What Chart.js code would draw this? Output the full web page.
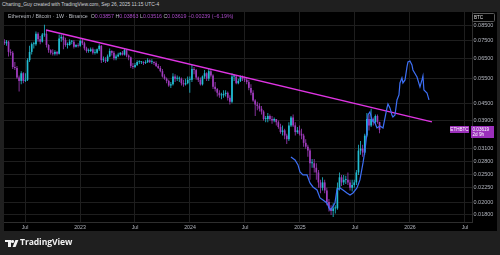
<!DOCTYPE html>
<html><head><meta charset="utf-8">
<script src="https://cdn.jsdelivr.net/npm/chart.js@4.4.1/dist/chart.umd.min.js"></script>
<style>
html,body{margin:0;padding:0;background:#1f1f1f;width:500px;height:255px;overflow:hidden;font-family:"Liberation Sans",Arial,sans-serif;}
#hdr{position:absolute;left:2px;top:1.5px;font-size:4.9px;color:#cfd2d8;white-space:nowrap;}
#panel{position:absolute;left:4px;top:12px;width:493px;height:219px;background:#000;}
#c{position:absolute;left:0;top:0;}
#legend{position:absolute;left:8px;top:13px;font-size:5.3px;color:#b8bbc2;white-space:nowrap;}
#legend .v{color:#a94ac8;}
#btc{position:absolute;left:472px;top:13px;width:20px;height:7px;border:0.6px solid #5a5a5a;border-radius:1.5px;font-size:4.6px;color:#e0e0e0;line-height:7px;padding-left:1px;box-sizing:content-box;}
.plab{position:absolute;background:#9b2fbb;color:#fff;font-size:4.6px;white-space:nowrap;}
#foot{position:absolute;left:20px;top:236px;font-size:8.6px;font-weight:700;color:#f2f2f2;font-family:"Open Sans","Liberation Sans",sans-serif;letter-spacing:-0.1px;}
.lg{position:absolute;background:#f2f2f2;}
</style></head>
<body>
<div id="hdr">Charting_Guy created with TradingView.com, Sep 26, 2025 11:15 UTC-4</div>
<div id="panel"></div>
<canvas id="c" width="500" height="255"></canvas>
<div id="legend">Ethereum / Bitcoin · 1W · Binance &nbsp;O<span class="v">0.03857</span> H<span class="v">0.03863</span> L<span class="v">0.03516</span> C<span class="v">0.03619</span> <span class="v">−0.00239 (−6.19%)</span></div>
<div id="btc">BTC</div>
<div id="lab1" class="plab" style="left:450px;width:19px;height:7px;line-height:7px;text-align:center;">ETHBTC</div>
<div id="lab2" class="plab" style="left:471px;width:23px;height:12px;line-height:5.6px;padding-left:1.5px;box-sizing:border-box;padding-top:0.6px;">0.03619<br>2d 9h</div>
<div class="lg" style="left:5px;top:240px;width:6px;height:2.4px;"></div>
<div class="lg" style="left:8px;top:240px;width:2.6px;height:7px;"></div>
<div class="lg" style="left:11.4px;top:240px;width:2.6px;height:2.6px;border-radius:50%;"></div>
<div class="lg" style="left:13.6px;top:240px;width:2.8px;height:7px;transform:skewX(-22deg);"></div>
<div id="foot">TradingView</div>
<script>
// Weekly candles ETH/BTC, first week starts 2022-04-25
const firstWeek = 2022.312;
const opens = [
.0745,.0735,.0745,.0685,.0680,.0605,.0600,.0555,.0540,.0575,.0540,.0545,.0640,.0685,.0730,.0730,.0795,.0760,.0745,.0790,.0795,.0725,.0695,.0680,.0675,.0685,.0675,.0765,.0775,.0755,.0725,.0725,.0745,.0745,.0715,.0725,
.0720,.0750,.0735,.0705,.0690,.0690,.0700,.0680,.0680,.0700,.0720,.0640,.0640,.0635,.0660,.0690,.0680,.0650,.0660,.0670,.0680,.0670,.0695,.0665,.0655,.0610,.0605,.0615,.0630,.0630,.0630,.0625,.0630,.0640,.0630,.0630,.0625,.0610,.0600,.0585,.0560,.0550,.0540,.0520,.0525,.0560,.0550,.0550,.0550,.0530,.0525,.0530,
.0545,.0545,.0595,.0590,.0555,.0545,.0525,.0560,.0575,.0550,.0585,.0565,.0515,.0505,.0490,.0480,.0480,.0485,.0490,.0470,.0455,.0560,.0560,.0530,.0540,.0560,.0550,.0545,.0535,.0510,.0490,.0460,.0445,.0440,.0430,.0420,.0395,.0395,.0405,.0395,.0390,.0395,.0385,.0370,.0355,.0360,.0345,.0335,.0375,.0400,.0375,.0355,.0360,
.0350,.0345,.0325,.0315,.0305,.0275,.0275,.0265,.0255,.0235,.0225,.0235,.0220,.0200,.0190,.0186,.0190,.0190,.0225,.0245,.0235,.0240,.0240,.0235,.0225,.0230,.0235,.0255,.0305,.0310,.0300,.0345,.0395,.0375,.0395,.0385,.0405,.03857];
const closes = [
.0735,.0745,.0685,.0680,.0605,.0600,.0555,.0540,.0575,.0540,.0545,.0640,.0685,.0730,.0730,.0795,.0760,.0745,.0790,.0795,.0725,.0695,.0680,.0675,.0685,.0675,.0765,.0775,.0755,.0725,.0725,.0745,.0745,.0715,.0725,.0720,
.0750,.0735,.0705,.0690,.0690,.0700,.0680,.0680,.0700,.0720,.0640,.0640,.0635,.0660,.0690,.0680,.0650,.0660,.0670,.0680,.0670,.0695,.0665,.0655,.0610,.0605,.0615,.0630,.0630,.0630,.0625,.0630,.0640,.0630,.0630,.0625,.0610,.0600,.0585,.0560,.0550,.0540,.0520,.0525,.0560,.0550,.0550,.0550,.0530,.0525,.0530,.0545,
.0545,.0595,.0590,.0555,.0545,.0525,.0560,.0575,.0550,.0585,.0565,.0515,.0505,.0490,.0480,.0480,.0485,.0490,.0470,.0455,.0560,.0560,.0530,.0540,.0560,.0550,.0545,.0535,.0510,.0490,.0460,.0445,.0440,.0430,.0420,.0395,.0395,.0405,.0395,.0390,.0395,.0385,.0370,.0355,.0360,.0345,.0335,.0375,.0400,.0375,.0355,.0360,.0350,
.0345,.0325,.0315,.0305,.0275,.0275,.0265,.0255,.0235,.0225,.0235,.0220,.0200,.0190,.0186,.0190,.0190,.0225,.0245,.0235,.0240,.0240,.0235,.0225,.0230,.0235,.0255,.0305,.0310,.0300,.0345,.0395,.0375,.0395,.0385,.0405,.03857,.03619];
const highs = [
.0760,.0755,.0750,.0700,.0690,.0630,.0610,.0565,.0585,.0580,.0575,.0650,.0720,.0740,.0745,.0810,.0805,.0780,.0800,.0855,.0820,.0730,.0700,.0700,.0695,.0690,.0790,.0790,.0785,.0770,.0740,.0760,.0755,.0755,.0730,.0735,
.0760,.0765,.0745,.0715,.0705,.0710,.0710,.0700,.0705,.0730,.0725,.0660,.0655,.0670,.0705,.0695,.0690,.0670,.0680,.0685,.0690,.0705,.0700,.0670,.0660,.0625,.0625,.0640,.0640,.0635,.0635,.0640,.0650,.0645,.0645,.0635,.0635,.0620,.0610,.0595,.0570,.0555,.0545,.0535,.0575,.0570,.0565,.0560,.0555,.0545,.0550,.0560,
.0560,.0615,.0605,.0595,.0560,.0555,.0565,.0590,.0580,.0600,.0595,.0570,.0535,.0510,.0500,.0490,.0500,.0500,.0495,.0480,.0575,.0570,.0565,.0550,.0565,.0565,.0560,.0555,.0545,.0525,.0500,.0465,.0455,.0450,.0440,.0425,.0405,.0415,.0410,.0405,.0400,.0395,.0390,.0380,.0375,.0365,.0350,.0385,.0405,.0410,.0385,.0370,.0375,
.0365,.0350,.0335,.0320,.0310,.0285,.0285,.0275,.0260,.0240,.0245,.0240,.0225,.0205,.0195,.0198,.0195,.0235,.0255,.0250,.0250,.0248,.0255,.0240,.0240,.0240,.0260,.0320,.0330,.0320,.0350,.0415,.0410,.0430,.0400,.0410,.0410,.03863];
const lows = [
.0725,.0720,.0660,.0665,.0595,.0590,.0550,.0495,.0525,.0530,.0535,.0540,.0630,.0670,.0705,.0720,.0745,.0730,.0740,.0775,.0710,.0680,.0670,.0665,.0665,.0665,.0670,.0745,.0700,.0715,.0705,.0720,.0730,.0705,.0710,.0710,
.0715,.0725,.0695,.0680,.0680,.0685,.0670,.0670,.0675,.0690,.0625,.0630,.0625,.0630,.0655,.0665,.0640,.0640,.0655,.0665,.0665,.0665,.0655,.0640,.0600,.0595,.0600,.0610,.0620,.0620,.0615,.0620,.0625,.0625,.0620,.0615,.0605,.0595,.0580,.0555,.0545,.0530,.0515,.0510,.0520,.0535,.0540,.0535,.0520,.0515,.0520,.0525,
.0490,.0535,.0570,.0545,.0535,.0520,.0520,.0550,.0540,.0540,.0555,.0505,.0495,.0475,.0470,.0465,.0470,.0475,.0460,.0445,.0450,.0540,.0525,.0525,.0535,.0540,.0535,.0525,.0500,.0480,.0455,.0405,.0425,.0420,.0410,.0390,.0385,.0385,.0390,.0380,.0385,.0375,.0365,.0350,.0345,.0335,.0322,.0330,.0370,.0370,.0345,.0350,.0345,
.0335,.0315,.0310,.0290,.0240,.0265,.0255,.0240,.0225,.0215,.0220,.0215,.0195,.0185,.0180,.0177,.0182,.0188,.0220,.0228,.0230,.0232,.0230,.0220,.0218,.0225,.0230,.0250,.0295,.0290,.0295,.0340,.0360,.0370,.0375,.0380,.0380,.03516];

// Blue projected path (decimal year, price)
const blueX = [2024.918,2024.955,2024.982,2025.000,2025.027,2025.064,2025.091,2025.118,2025.155,2025.182,2025.209,2025.245,2025.273,2025.291,2025.318,2025.336,2025.364,2025.391,2025.427,2025.455,2025.482,2025.518,2025.545,2025.573,2025.591,2025.609,2025.618,2025.636,2025.655,2025.682,2025.700,2025.727,2025.755,2025.773,2025.791,2025.800,2025.818,2025.836,2025.845,2025.864,2025.882,2025.900,2025.909,2025.927,2025.936,2025.955,2025.973,2025.982,2026.000,2026.018,2026.027,2026.064,2026.091,2026.109,2026.118,2026.127,2026.155,2026.173];
const blueY = [0.02896,0.02825,0.02712,0.02561,0.02498,0.02498,0.02340,0.02264,0.02209,0.02069,0.02036,0.01986,0.01875,0.01906,0.01986,0.02209,0.02246,0.02209,0.02156,0.02121,0.02156,0.02246,0.02398,0.02757,0.03066,0.03525,0.04086,0.04187,0.03921,0.03826,0.03673,0.03733,0.03673,0.03986,0.04327,0.04471,0.04327,0.04086,0.04019,0.04086,0.04620,0.04813,0.05311,0.05533,0.05311,0.05443,0.06055,0.06308,0.06360,0.06155,0.05908,0.05578,0.05140,0.05443,0.05624,0.05015,0.04893,0.04620];

// Trendline endpoints
const trendX = [2022.691, 2026.200];
const trendY = [0.0820, 0.0386];

// Axis ticks
const xTickValues = [2022.5,2023,2023.5,2024,2024.5,2025,2025.5,2026,2026.5];
const xTickLabels = ['Jul','2023','Jul','2024','Jul','2025','Jul','2026','Jul'];
const yTickValues = [0.085,0.075,0.065,0.055,0.045,0.039,0.031,0.028,0.025,0.0225,0.020,0.018];
const yTickLabels = ['0.08500','0.07500','0.06500','0.05500','0.04500','0.03900','0.03100','0.02800','0.02500','0.02250','0.02000','0.01800'];

const UP = '#22bdd3', DOWN = '#a03cbd';
const candleX = closes.map((_, i) => firstWeek + i * 7 / 365.25);
const cols = closes.map((c, i) => c >= opens[i] ? UP : DOWN);

const chart = new Chart(document.getElementById('c'), {
  type: 'bar',
  data: {
    datasets: [
      { type: 'line', data: blueX.map((x, i) => ({x, y: blueY[i]})), borderColor: '#3d6ff5', borderWidth: 1.2, pointRadius: 0, tension: 0, order: 0 },
      { type: 'line', data: trendX.map((x, i) => ({x, y: trendY[i]})), borderColor: '#df34e3', borderWidth: 1.4, pointRadius: 0, order: 1 },
      { type: 'bar', data: candleX.map((x, i) => ({x, y: [Math.min(opens[i], closes[i]), Math.max(opens[i], closes[i])]})),
        backgroundColor: cols, borderWidth: 0, barThickness: 1.7, minBarLength: 0.9, grouped: false, inflateAmount: 0, order: 2 },
      { type: 'bar', data: candleX.map((x, i) => ({x, y: [lows[i], highs[i]]})),
        backgroundColor: cols, borderWidth: 0, barThickness: 0.8, grouped: false, inflateAmount: 0, order: 3 }
    ]
  },
  options: {
    responsive: false, animation: false, events: [],
    layout: { padding: { left: 4, top: 12, right: 0, bottom: 23 } },
    plugins: { legend: { display: false }, tooltip: { enabled: false } },
    scales: {
      x: {
        type: 'linear', min: 2022.309, max: 2026.564, offset: false,
        grid: { color: '#1e1e1e', drawTicks: false, offset: false },
        border: { color: '#2e2e2e' },
        ticks: { color: '#b2b5be', font: { size: 5.2, family: 'Liberation Sans' }, padding: 2, maxRotation: 0, autoSkip: false,
          callback: (v, i) => xTickLabels[i] },
        afterBuildTicks: s => { s.ticks = xTickValues.map(v => ({ value: v })); },
        afterFit: s => { s.height = 10; }
      },
      y: {
        type: 'logarithmic', position: 'right', min: 0.01699, max: 0.0950, bounds: 'data',
        grid: { color: '#1e1e1e', drawTicks: false },
        border: { color: '#2e2e2e' },
        ticks: { color: '#b2b5be', font: { size: 5.5, family: 'Liberation Sans' }, padding: 1.5, autoSkip: false,
          callback: (v, i) => yTickLabels[i] },
        afterBuildTicks: s => { s.ticks = yTickValues.map(v => ({ value: v })); },
        afterFit: s => { s.width = 28; }
      }
    }
  }
});

const py = chart.scales.y.getPixelForValue(closes[closes.length - 1]);
document.getElementById('lab1').style.top = (py - 3.5) + 'px';
document.getElementById('lab2').style.top = (py - 3.5) + 'px';
</script>
</body></html>
